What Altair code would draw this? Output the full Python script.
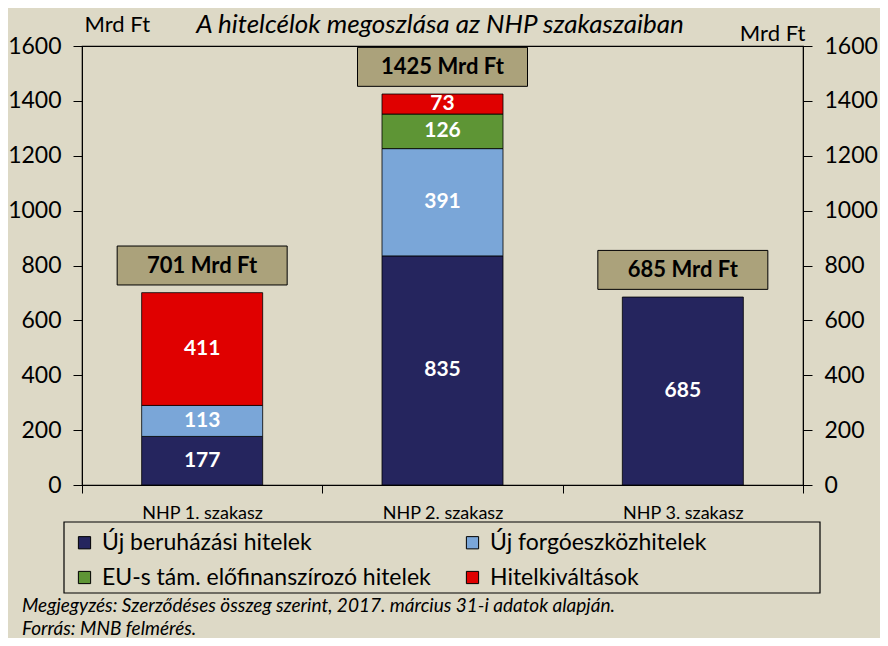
import altair as alt
import pandas as pd

phases = ["NHP 1. szakasz", "NHP 2. szakasz", "NHP 3. szakasz"]
types = ["Új beruházási hitelek", "Új forgóeszközhitelek",
         "EU-s tám. előfinanszírozó hitelek", "Hitelkiváltások"]
colors = ["#25255e", "#7aa6d8", "#5e9535", "#e00000"]

beruhazasi = [177, 835, 685]
forgo = [113, 391, 0]
eu = [0, 126, 0]
kivaltas = [411, 73, 0]
totals = [701, 1425, 685]
total_labels = ["701 Mrd Ft", "1425 Mrd Ft", "685 Mrd Ft"]

title_text = "A hitelcélok megoszlása az NHP szakaszaiban"
notes = ["Megjegyzés: Szerződéses összeg szerint, 2017. március 31-i adatok alapján.",
         "Forrás: MNB felmérés."]

FONT = "Lato"
BG = "#ddd9c6"

rows = []
for i, p in enumerate(phases):
    for j, (t, vals) in enumerate(zip(types, [beruhazasi, forgo, eu, kivaltas])):
        if vals[i] > 0:
            rows.append({"phase": p, "type": t, "value": vals[i], "order": j})
seg = pd.DataFrame(rows)
tot = pd.DataFrame({"phase": phases, "total": totals, "label": total_labels})

ydom = [0, 1600]
xenc = alt.X("phase:N", sort=phases, title=None,
             scale=alt.Scale(paddingInner=0, paddingOuter=0),
             axis=alt.Axis(tickBand="extent", labelAngle=0, labelFontSize=18,
                           labelColor="black", tickSize=8, labelPadding=11,
                           domainColor="black", tickColor="black"))

left_axis = alt.Axis(values=list(range(0, 1601, 200)), format="d", labelFontSize=23,
                     labelColor="black", tickSize=9, labelPadding=12, grid=False,
                     domainColor="black", tickColor="black",
                     title="Mrd Ft", titleAngle=0, titleFontSize=22, titleFontWeight="normal",
                     titleX=2, titleY=-15, titleAlign="left", titleBaseline="alphabetic",
                     titleColor="black")

bars = alt.Chart(seg).mark_bar(width=121, stroke="black", strokeWidth=0.8).encode(
    x=xenc,
    y=alt.Y("value:Q", stack="zero", scale=alt.Scale(domain=ydom, nice=False), axis=left_axis),
    color=alt.Color("type:N", scale=alt.Scale(domain=types, range=colors),
                    legend=alt.Legend(title=None, orient="none", legendX=-18, legendY=476,
                                      columns=2, direction="horizontal",
                                      symbolType="square", symbolSize=150,
                                      symbolStrokeColor="black", symbolStrokeWidth=1,
                                      labelFontSize=23, labelColor="black", labelLimit=800,
                                      rowPadding=11, columnPadding=30, padding=9,
                                      labelOffset=6)),
    order=alt.Order("order:Q"),
)

# frame around the legend
frame = alt.Chart(pd.DataFrame({"k": [0]})).mark_rect(
    fill=None, stroke="black", strokeWidth=1.2
).encode(x=alt.value(-18), x2=alt.value(738), y=alt.value(476), y2=alt.value(547))

seg_text = alt.Chart(seg).transform_stack(
    stack="value", groupby=["phase"], sort=[alt.SortField("order")], as_=["y0", "y1"]
).transform_calculate(mid="(datum.y0 + datum.y1) / 2").mark_text(
    color="white", fontWeight="bold", fontSize=21, baseline="middle"
).encode(
    x=alt.X("phase:N", sort=phases),
    y=alt.Y("mid:Q", scale=alt.Scale(domain=ydom, nice=False)),
    text="value:Q",
)

boxes = alt.Chart(tot).transform_calculate(
    b="datum.total + 28", t="datum.total + 170"
).mark_bar(width=170, fill="#aba27b", stroke="black", strokeWidth=1).encode(
    x=alt.X("phase:N", sort=phases),
    y=alt.Y("b:Q", scale=alt.Scale(domain=ydom, nice=False)),
    y2="t:Q",
)

box_text = alt.Chart(tot).transform_calculate(m="datum.total + 99").mark_text(
    color="black", fontWeight="bold", fontSize=22, baseline="middle"
).encode(
    x=alt.X("phase:N", sort=phases),
    y=alt.Y("m:Q", scale=alt.Scale(domain=ydom, nice=False)),
    text="label:N",
)

right = alt.Chart(tot).mark_point(opacity=0).encode(
    y=alt.Y("total:Q", scale=alt.Scale(domain=ydom, nice=False),
            axis=alt.Axis(orient="right", values=list(range(0, 1601, 200)), format="d",
                          labelFontSize=23, labelColor="black", tickSize=9, labelPadding=12,
                          grid=False, domainColor="black", tickColor="black",
                          title="Mrd Ft", titleAngle=0, titleFontSize=22,
                          titleFontWeight="normal", titleX=2, titleY=-6,
                          titleAlign="right", titleBaseline="alphabetic", titleColor="black")),
)

text_df = pd.DataFrame({"t": [title_text] + notes, "i": [0, 1, 2]})
title_mark = alt.Chart(text_df).transform_filter("datum.i == 0").mark_text(
    align="center", baseline="alphabetic", fontStyle="italic", fontSize=26, color="black"
).encode(x=alt.value(358), y=alt.value(-13), text="t:N")
note1 = alt.Chart(text_df).transform_filter("datum.i == 1").mark_text(
    align="left", baseline="alphabetic", fontStyle="italic", fontSize=19, color="black"
).encode(x=alt.value(-60), y=alt.value(566), text="t:N")
note2 = alt.Chart(text_df).transform_filter("datum.i == 2").mark_text(
    align="left", baseline="alphabetic", fontStyle="italic", fontSize=19, color="black"
).encode(x=alt.value(-60), y=alt.value(589), text="t:N")

inner = alt.layer(bars, seg_text, boxes, box_text, frame, title_mark, note1, note2)
chart = alt.layer(inner, right).resolve_scale(y="independent").properties(
    width=721, height=439,
    background=BG,
    padding={"left": 74, "top": 38, "right": 77, "bottom": 153},
    autosize=alt.AutoSizeParams(type="none"),
).configure(font=FONT).configure_view(stroke="black", strokeWidth=1.2)

chart.save("out.html", embed_options={"renderer": "svg", "actions": False})
